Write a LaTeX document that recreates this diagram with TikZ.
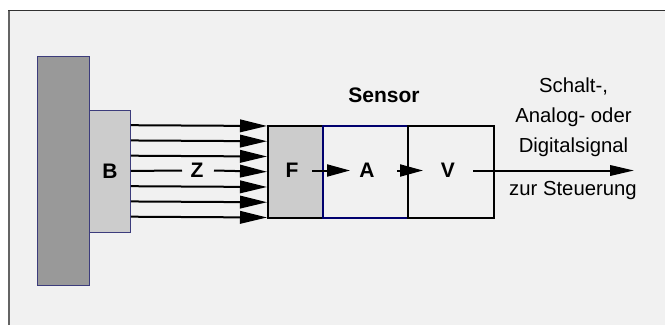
\documentclass[tikz,border=0pt]{standalone}
\usepackage{fontspec}
\setmainfont{Liberation Sans}
\usetikzlibrary{arrows.meta}
\definecolor{bgc}{HTML}{F1F1F1}
\definecolor{wallc}{HTML}{999999}
\definecolor{lightc}{HTML}{CCCCCC}
\definecolor{navyc}{HTML}{00006E}
\definecolor{thinc}{HTML}{3C3C7C}
\tikzset{
  wallbox/.style={draw=thinc, line width=0.9pt, inner sep=0pt, anchor=north west},
  blockbox/.style={line width=2pt, inner sep=0pt, anchor=north west},
  lbl/.style={inner sep=0pt, font=\fontsize{21}{25}\selectfont\bfseries},
  txt/.style={inner sep=0pt, font=\fontsize{20.3}{29.7}\selectfont},
  bigarrow/.style={line width=2pt, -{Triangle[length=27pt,width=12.5pt]}},
  smallarrow/.style={line width=2pt, -{Triangle[length=23pt,width=12pt]}},
  outarrow/.style={line width=2pt, -{Triangle[length=24pt,width=10.5pt]}},
}
\begin{document}
\begin{tikzpicture}[x=1pt,y=-1pt]
\useasboundingbox (0,0) rectangle (665,325);
\fill[white] (0,0) rectangle (665,325);
\fill[bgc] (9,10.5) rectangle (665,325);
\draw[color={rgb,255:red,100;green,100;blue,100}, line width=2pt] (9,325) -- (9,10.5);
\draw[color={rgb,255:red,50;green,50;blue,50}, line width=1.2pt] (8,10.5) -- (665,10.5);
% wall and B
\node[wallbox, fill=wallc, minimum width=52pt, minimum height=229.5pt] (wall) at (37,55.5) {};
\node[wallbox, fill=lightc, minimum width=41pt, minimum height=122pt] (B) at (89,109.5) {};
\node[lbl] (Bl) at (B.center) {B};
% sensor blocks
\node[blockbox, draw=black, fill=lightc, minimum width=55pt, minimum height=91.5pt] (F) at (267,125) {};
\node[blockbox, draw=navyc, minimum width=85pt, minimum height=91.5pt] (A) at (322,125) {};
\node[blockbox, draw=black, minimum width=86pt, minimum height=91.5pt] (V) at (407,125) {};
\node[lbl] (Fl) at (292,170.5) {F};
\node[lbl] (Al) at (367,170.5) {A};
\node[lbl] (Vl) at (448,170.5) {V};
\node[lbl] (Z) at (197,170.5) {Z};
% Z arrows
\foreach \dy in {-45.75,-30.5,-15.25,15.25,30.5,45.75}
  \draw[bigarrow] ([yshift=-\dy pt]B.east) -- ([yshift=-\dy pt]F.west);
\draw[line width=2pt] (B.east) -- ([xshift=-15pt]Z.center);
\draw[bigarrow] ([xshift=17pt]Z.center) -- (F.west);
% internal arrows
\draw[smallarrow] ([xshift=20pt]Fl.center) -- ([xshift=-17pt]Al.center);
\draw[smallarrow] ([xshift=30pt]Al.center) -- ([xshift=-25pt]Vl.center);
\coordinate (out) at (634,170.5);
\draw[outarrow] ([xshift=25pt]Vl.center) -- (out);
% texts
\node[lbl, anchor=base] (sensor) at (384,102) {Sensor};
\node[txt, anchor=north, align=center] (sig) at (573.5,78) {Schalt-,\\Analog- oder\\Digitalsignal};
\node[txt, anchor=base] (zur) at (573,195) {zur Steuerung};
\end{tikzpicture}
\end{document}
